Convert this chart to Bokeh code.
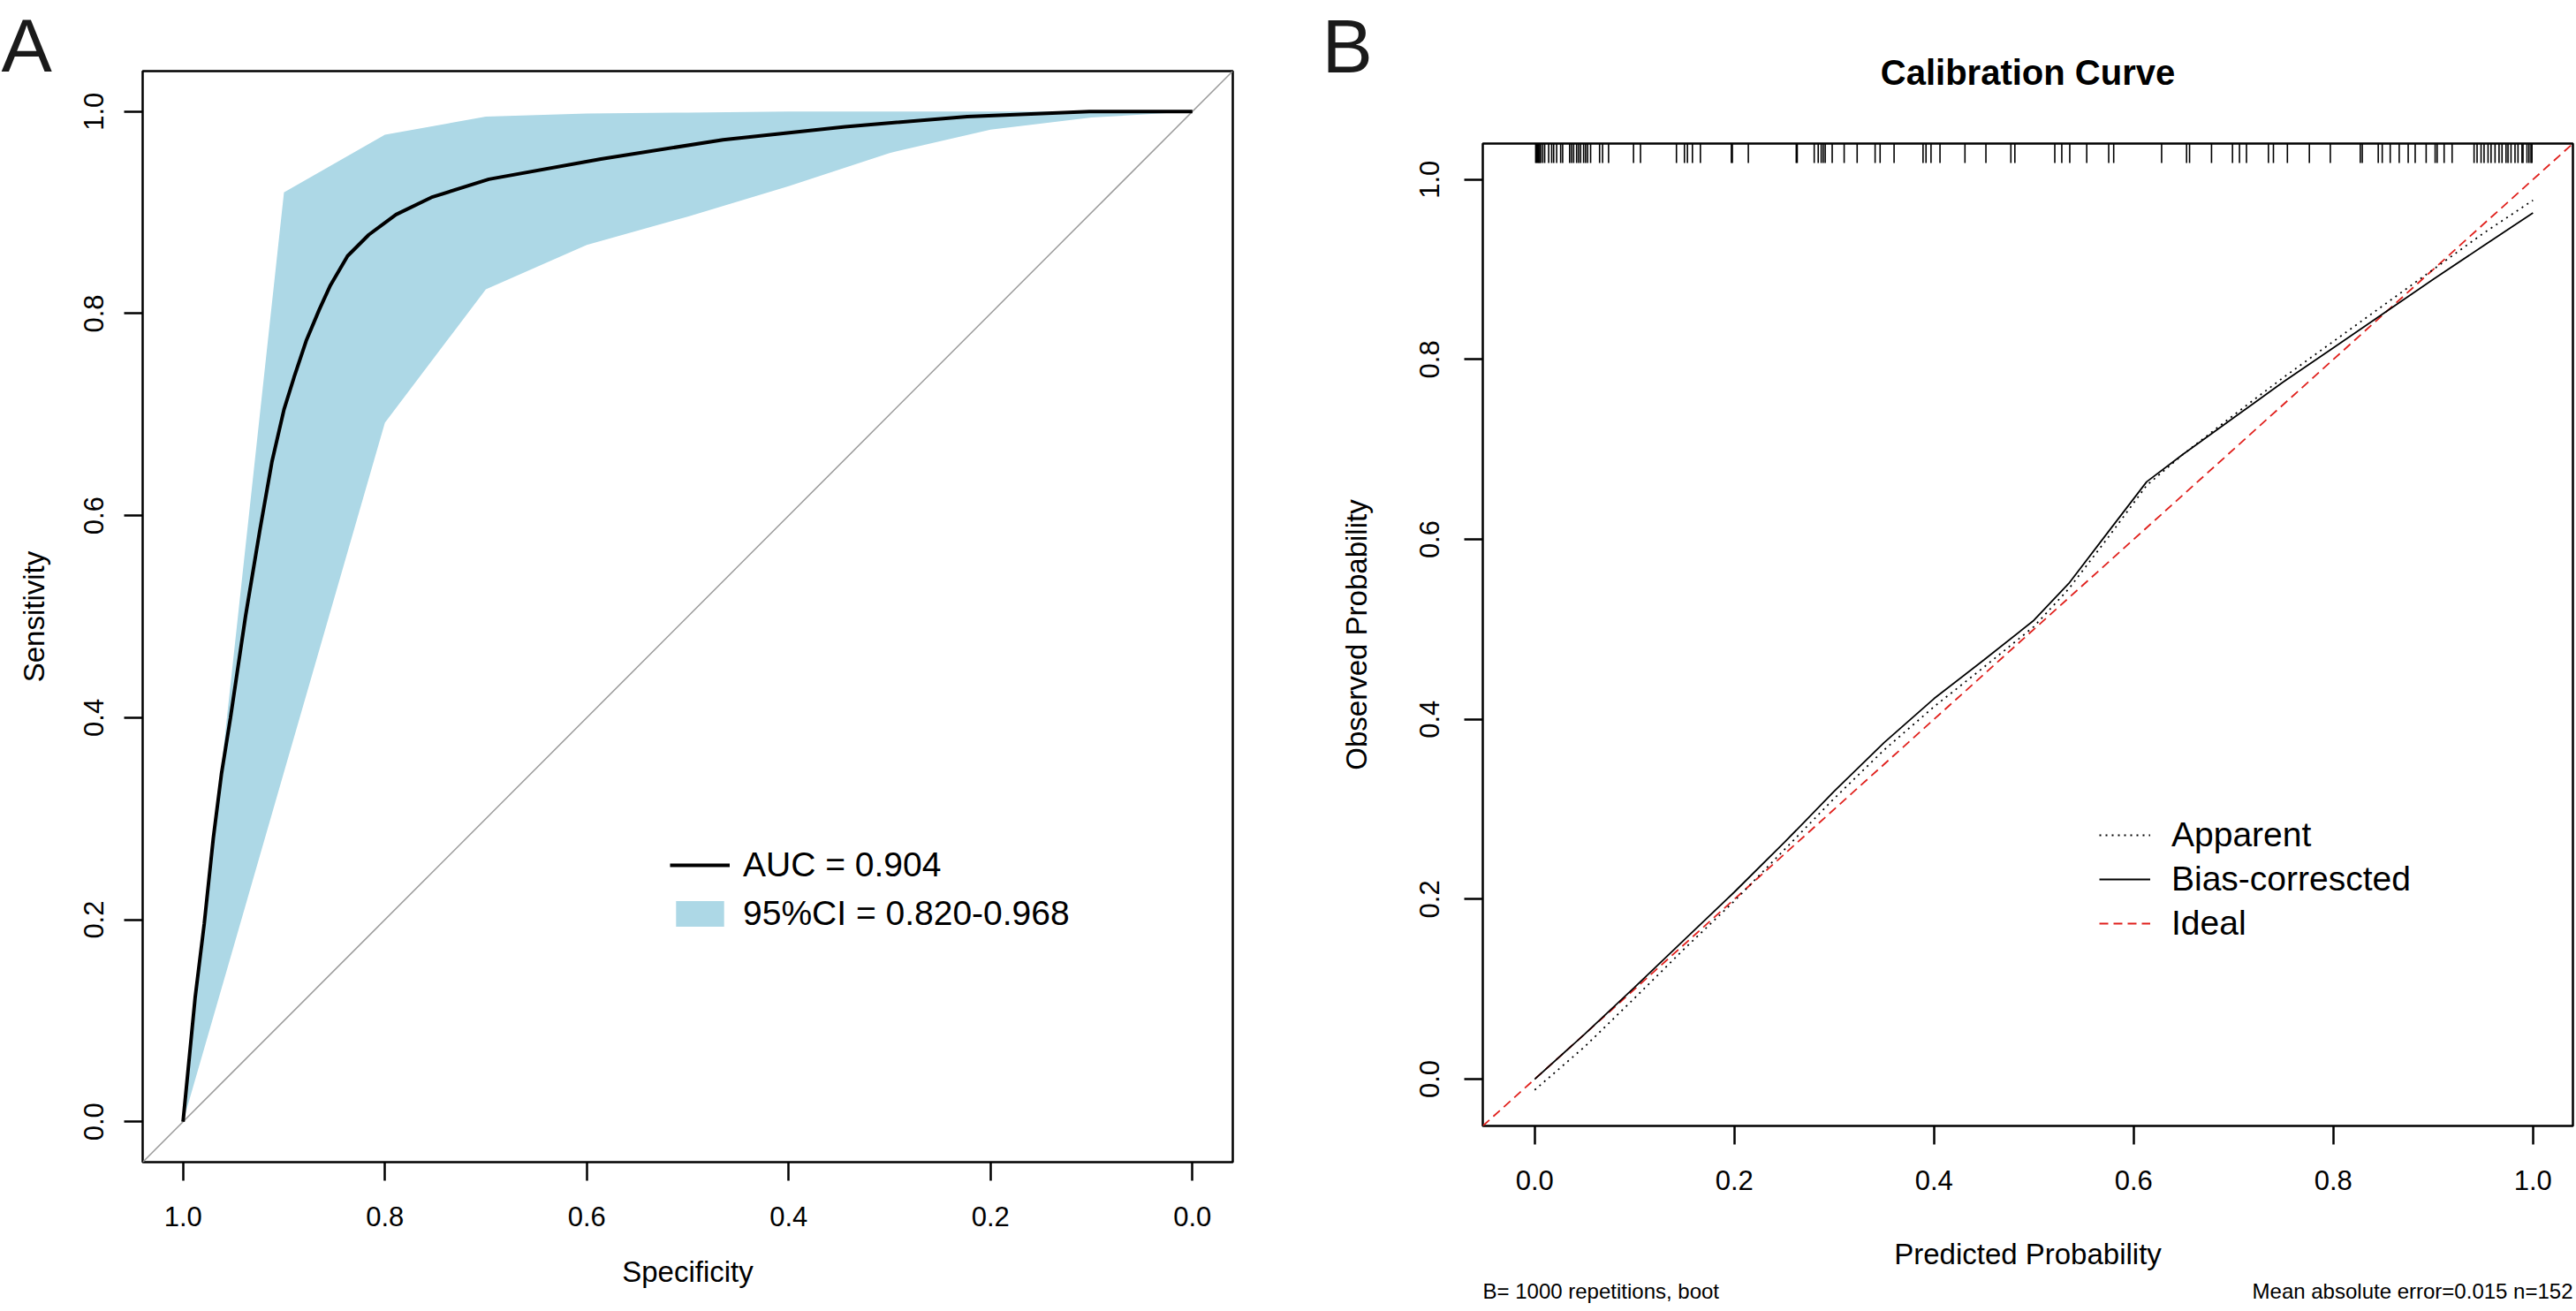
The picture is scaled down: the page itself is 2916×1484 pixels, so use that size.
import numpy as np
from bokeh.plotting import figure
from bokeh.layouts import row
from bokeh.models import Range1d, FixedTicker, Legend, LegendItem, Title
from bokeh.embed import file_html
from bokeh.resources import INLINE

FONT = "Liberation Sans"

# ---------------- Panel A: ROC ----------------
roc_specificity = [1.0, 0.988, 0.979, 0.970, 0.962, 0.953, 0.938, 0.924, 0.912, 0.900,
                   0.890, 0.878, 0.865, 0.854, 0.837, 0.816, 0.789, 0.754, 0.697, 0.586,
                   0.465, 0.344, 0.223, 0.102, 0.0]
roc_sensitivity = [0.0, 0.123, 0.196, 0.281, 0.344, 0.400, 0.501, 0.585, 0.653, 0.705,
                   0.737, 0.773, 0.804, 0.828, 0.857, 0.878, 0.898, 0.915, 0.933, 0.953,
                   0.972, 0.985, 0.995, 1.0, 1.0]
ci_specificity = [1.0, 0.9, 0.8, 0.7, 0.6, 0.5, 0.4, 0.3, 0.2, 0.1, 0.0]
ci_lower = [0.0, 0.346, 0.692, 0.824, 0.868, 0.896, 0.926, 0.959, 0.982, 0.994, 1.0]
ci_upper = [0.0, 0.920, 0.977, 0.995, 0.998, 0.999, 1.0, 1.0, 1.0, 1.0, 1.0]
auc_label = "AUC = 0.904"
ci_label = "95%CI = 0.820-0.968"

tick_values = [0.0, 0.2, 0.4, 0.6, 0.8, 1.0]
tick_labels = ["0.0", "0.2", "0.4", "0.6", "0.8", "1.0"]

# ---------------- Panel B: calibration ----------------
cal_predicted = [0.0, 0.05, 0.1, 0.15, 0.2, 0.25, 0.3, 0.35, 0.4, 0.45, 0.5, 0.535,
                 0.575, 0.613, 0.65, 0.7, 0.75, 0.8, 0.85, 0.9, 0.95, 1.0]
cal_apparent = [-0.012, 0.036, 0.090, 0.145, 0.198, 0.255, 0.312, 0.366, 0.414, 0.458,
                0.503, 0.545, 0.603, 0.660, 0.695, 0.738, 0.780, 0.820, 0.860, 0.900,
                0.940, 0.977]
cal_bias_corrected = [0.0, 0.050, 0.102, 0.155, 0.208, 0.263, 0.320, 0.374, 0.423, 0.466,
                      0.510, 0.551, 0.609, 0.664, 0.695, 0.735, 0.775, 0.813, 0.851, 0.889,
                      0.926, 0.963]
rug_predicted = [0.001, 0.002, 0.003, 0.004, 0.005, 0.006, 0.008, 0.010, 0.014, 0.017,
                 0.019, 0.022, 0.026, 0.028, 0.035, 0.037, 0.039, 0.042, 0.044, 0.046,
                 0.049, 0.051, 0.053, 0.056, 0.065, 0.068, 0.074, 0.099, 0.106, 0.142,
                 0.150, 0.153, 0.158, 0.166, 0.197, 0.198, 0.214, 0.262, 0.263, 0.280,
                 0.284, 0.287, 0.289, 0.291, 0.298, 0.310, 0.323, 0.341, 0.346, 0.360,
                 0.389, 0.392, 0.397, 0.406, 0.431, 0.452, 0.477, 0.481, 0.521, 0.528,
                 0.536, 0.553, 0.575, 0.580, 0.628, 0.653, 0.656, 0.678, 0.699, 0.706,
                 0.713, 0.735, 0.740, 0.754, 0.776, 0.797, 0.827, 0.829, 0.845, 0.849,
                 0.857, 0.866, 0.875, 0.882, 0.893, 0.902, 0.904, 0.911, 0.919, 0.941,
                 0.944, 0.948, 0.951, 0.955, 0.958, 0.962, 0.966, 0.969, 0.973, 0.975,
                 0.978, 0.982, 0.985, 0.989, 0.990, 0.994, 0.996, 0.998, 0.999]
legend_b = ["Apparent", "Bias-correscted", "Ideal"]
title_b = "Calibration Curve"
footer_left = "B= 1000 repetitions, boot"
footer_right = "Mean absolute error=0.015 n=152"

W, H = 1458, 1484


def style(p, y_tick_standoff, y_label_standoff, x_label_standoff):
    p.grid.visible = False
    p.outline_line_color = "black"
    p.outline_line_width = 2.5
    p.background_fill_color = "white"
    p.border_fill_color = "white"
    for ax in (p.xaxis[0], p.yaxis[0]):
        ax.ticker = FixedTicker(ticks=tick_values)
        ax.major_label_overrides = dict(zip(tick_values, tick_labels))
        ax.axis_line_color = None
        ax.major_tick_out = 21
        ax.major_tick_in = 0
        ax.major_tick_line_width = 2.5
        ax.major_tick_line_color = "black"
        ax.minor_tick_line_color = None
        ax.major_label_text_font = FONT
        ax.major_label_text_font_size = "31px"
        ax.major_label_text_color = "black"
        ax.axis_label_text_font = FONT
        ax.axis_label_text_font_size = "33px"
        ax.axis_label_text_font_style = "normal"
        ax.axis_label_text_color = "black"
    p.yaxis[0].major_label_orientation = "vertical"
    p.yaxis[0].major_label_standoff = y_tick_standoff
    p.xaxis[0].major_label_standoff = 29
    p.yaxis[0].axis_label_standoff = y_label_standoff
    p.xaxis[0].axis_label_standoff = x_label_standoff


# ---------- Figure A ----------
pA = figure(width=W, height=H, x_range=Range1d(1.04, -0.04), y_range=Range1d(-0.04, 1.04),
            output_backend="svg", toolbar_location=None, title=None, frame_align=False,
            min_border_left=161, min_border_right=63, min_border_top=80, min_border_bottom=169,
            x_axis_label="Specificity", y_axis_label="Sensitivity")
style(pA, 23, 36, 30)

band = pA.varea(x=ci_specificity, y1=ci_lower, y2=ci_upper, fill_color="#ADD8E6")
xr = pA.x_range
pA.line(x=[xr.start, xr.end], y=[1 - xr.start, 1 - xr.end], line_color="#9a9a9a", line_width=1.5)
roc = pA.line(x=roc_specificity, y=roc_sensitivity, line_color="black", line_width=4)

legA = Legend(items=[LegendItem(label=auc_label, renderers=[roc]),
                     LegendItem(label=ci_label, renderers=[band])],
              location=(597, 259), orientation="vertical",
              glyph_width=68, glyph_height=36, label_height=36, label_width=10,
              label_standoff=15, spacing=11, padding=0, margin=0,
              border_line_color=None, background_fill_alpha=0,
              label_text_font=FONT, label_text_font_size="39px", label_text_color="black")
pA.add_layout(legA)

# panel letter A
pA.add_layout(Title(text="A", align="left", offset=-160, vertical_align="bottom", standoff=-36,
                    text_font=FONT, text_font_size="86px", text_font_style="normal",
                    text_color="#1a1a1a"), "above")

# ---------- Figure B ----------
pB = figure(width=W, height=H, x_range=Range1d(-0.052, 1.04), y_range=Range1d(-0.052, 1.04),
            output_backend="svg", toolbar_location=None, title=None, frame_align=False,
            min_border_left=220, min_border_right=4, min_border_top=162, min_border_bottom=210,
            x_axis_label="Predicted Probability", y_axis_label="Observed Probability")
style(pB, 28, 51, 51)

yr = pB.y_range
xrb = pB.x_range
ideal = pB.line(x=[xrb.start, xrb.end], y=[xrb.start, xrb.end], line_color="#e0201c",
                line_width=1.8, line_dash="10 6")
app = pB.line(x=cal_predicted, y=cal_apparent, line_color="black", line_width=1.8, line_dash="2 5")
bc = pB.line(x=cal_predicted, y=cal_bias_corrected, line_color="black", line_width=1.8)
rug_len = 22 / 1018.0
pB.segment(x0=rug_predicted, y0=[yr.end] * len(rug_predicted), x1=rug_predicted,
           y1=[yr.end - rug_len] * len(rug_predicted), line_color="black", line_width=1.6)

legB = Legend(items=[LegendItem(label=legend_b[0], renderers=[app]),
                     LegendItem(label=legend_b[1], renderers=[bc]),
                     LegendItem(label=legend_b[2], renderers=[ideal])],
              location=(698, 207), orientation="vertical",
              glyph_width=58, glyph_height=36, label_height=36, label_width=10,
              label_standoff=24, spacing=6, padding=0, margin=0,
              border_line_color=None, background_fill_alpha=0,
              label_text_font=FONT, label_text_font_size="39px", label_text_color="black")
pB.add_layout(legB)

# above stack (closest to frame first): spacer, title, panel letter B
pB.add_layout(Title(text=" ", align="center", vertical_align="bottom", standoff=46,
                    text_font=FONT, text_font_size="10px"), "above")
pB.add_layout(Title(text=title_b, align="center", vertical_align="bottom", standoff=0,
                    text_font=FONT, text_font_size="40px", text_font_style="bold",
                    text_color="black"), "above")
pB.add_layout(Title(text="B", align="left", offset=-182, vertical_align="bottom", standoff=-84,
                    text_font=FONT, text_font_size="86px", text_font_style="normal",
                    text_color="#1a1a1a"), "above")

# footers (below the x axis, on one line)
pB.add_layout(Title(text=footer_left, align="left", vertical_align="top", standoff=14,
                    text_font=FONT, text_font_size="24px", text_font_style="normal",
                    text_color="black"), "below")
pB.add_layout(Title(text=footer_right, align="right", offset=0, vertical_align="top", standoff=-72,
                    text_font=FONT, text_font_size="24px", text_font_style="normal",
                    text_color="black"), "below")

layout = row(pA, pB)
open("out.html", "w").write(file_html(layout, INLINE))
